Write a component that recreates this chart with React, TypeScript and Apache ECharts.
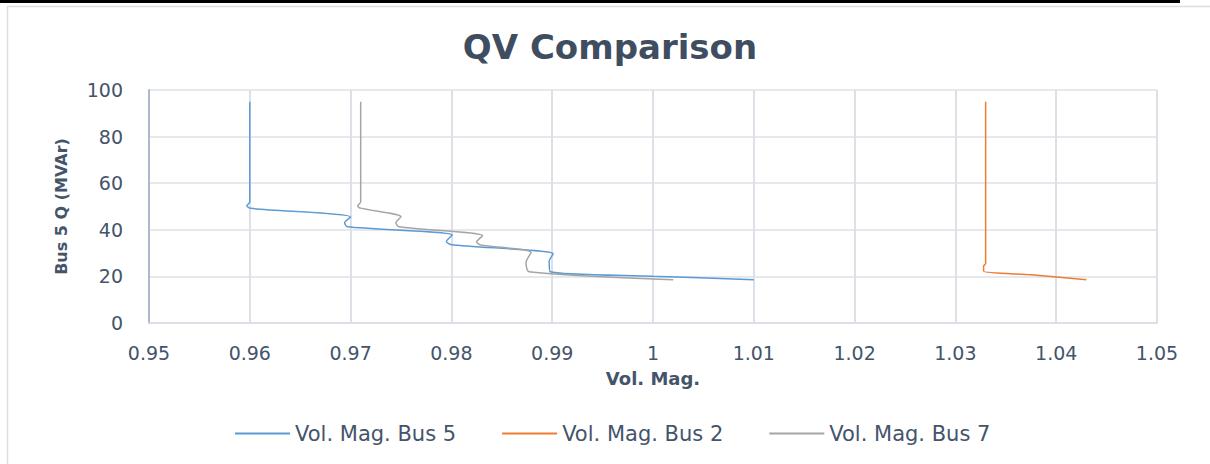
import React, { useEffect, useRef } from "react";
import * as echarts from "echarts";

const seriesNames = ["Vol. Mag. Bus 5", "Vol. Mag. Bus 2", "Vol. Mag. Bus 7"];

const bus5V = [0.96, 0.96, 0.9597, 0.9601, 0.97, 0.9694, 0.9697, 0.9801, 0.9795, 0.98, 0.9901, 0.9897, 0.9898, 1.0, 1.01];
const bus5Q = [95, 52, 50.3, 49.2, 45.5, 43.0, 41.3, 37.8, 35.0, 33.6, 29.7, 26.5, 22.0, 20.1, 18.6];

const bus2V = [1.033, 1.033, 1.0328, 1.0328, 1.0375, 1.043];
const bus2Q = [95, 25.5, 24.5, 22.2, 20.7, 18.6];

const bus7V = [0.971, 0.971, 0.9707, 0.971, 0.975, 0.9745, 0.9748, 0.9831, 0.9825, 0.9829, 0.9879, 0.9874, 0.9877, 1.002];
const bus7Q = [95, 52, 50.2, 49.3, 45.6, 43.0, 41.3, 37.5, 34.8, 33.5, 30.3, 26.0, 22.0, 18.6];

const colors = ["#5B9BD5", "#ED7D31", "#A5A5A5"];

const pairs = (xs: number[], ys: number[]) => xs.map((x, i) => [x, ys[i]]);

export default function App() {
  const ref = useRef<HTMLDivElement>(null);
  useEffect(() => {
    if (!ref.current) return;
    const chart = echarts.init(ref.current, null, { renderer: "svg" });
    const textColor = "#44546A";
    const font = "DejaVu Sans";
    const data = [pairs(bus5V, bus5Q), pairs(bus2V, bus2Q), pairs(bus7V, bus7Q)];
    chart.setOption({
      animation: false,
      backgroundColor: "#ffffff",
      color: colors,
      title: {
        text: "QV Comparison",
        left: 605,
        textAlign: "center",
        top: 25,
        textStyle: { fontFamily: font, fontSize: 34, fontWeight: "bold", color: "#3F4D61" },
      },
      graphic: [
        { type: "rect", shape: { x: 0, y: 0, width: 1180, height: 3 }, style: { fill: "#000000" } },
        { type: "line", shape: { x1: 7, y1: 6.5, x2: 1210, y2: 6.5 }, style: { stroke: "#DADDE3", lineWidth: 1.5 } },
        { type: "line", shape: { x1: 7.5, y1: 6, x2: 7.5, y2: 464 }, style: { stroke: "#DADDE3", lineWidth: 1.5 } },
      ],
      grid: { left: 149, right: 53, top: 90, bottom: 141 },
      legend: {
        data: seriesNames,
        left: 235,
        top: 423,
        padding: 0,
        icon: "rect",
        itemWidth: 55,
        itemHeight: 2,
        itemGap: 46,
        textStyle: { fontFamily: font, fontSize: 21, color: textColor },
      },
      xAxis: {
        type: "value",
        min: 0.95,
        max: 1.05,
        interval: 0.01,
        name: "Vol. Mag.",
        nameLocation: "middle",
        nameGap: 46,
        nameTextStyle: { fontFamily: font, fontSize: 18, fontWeight: "bold", color: textColor },
        axisLine: { show: true, lineStyle: { color: "#D9DCE3", width: 1.5 } },
        axisTick: { show: false },
        axisLabel: {
          margin: 20,
          fontFamily: font,
          fontSize: 19,
          color: textColor,
          formatter: (v: number) => String(parseFloat(v.toFixed(2))),
        },
        splitLine: { show: true, lineStyle: { color: "#DDE0E7", width: 2 } },
      },
      yAxis: {
        type: "value",
        min: 0,
        max: 100,
        interval: 20,
        name: "Bus 5 Q (MVAr)",
        nameLocation: "middle",
        nameGap: 80,
        nameTextStyle: { fontFamily: font, fontSize: 16, fontWeight: "bold", color: textColor },
        axisLine: { show: true, lineStyle: { color: "#ACB9CA", width: 2 } },
        axisTick: { show: false },
        axisLabel: { margin: 26, fontFamily: font, fontSize: 19, color: textColor },
        splitLine: { show: true, lineStyle: { color: "#DDE0E7", width: 1.5 } },
      },
      series: seriesNames.map((name, i) => ({
        name,
        type: "line",
        data: data[i],
        showSymbol: false,
        symbol: "none",
        smooth: 0.25,
        lineStyle: { width: 1.5, color: colors[i] },
        itemStyle: { color: colors[i] },
      })),
    });
    return () => chart.dispose();
  }, []);
  return (
    <div
      ref={ref}
      style={{ position: "fixed", left: 0, top: 0, width: 1210, height: 464 }}
    />
  );
}
